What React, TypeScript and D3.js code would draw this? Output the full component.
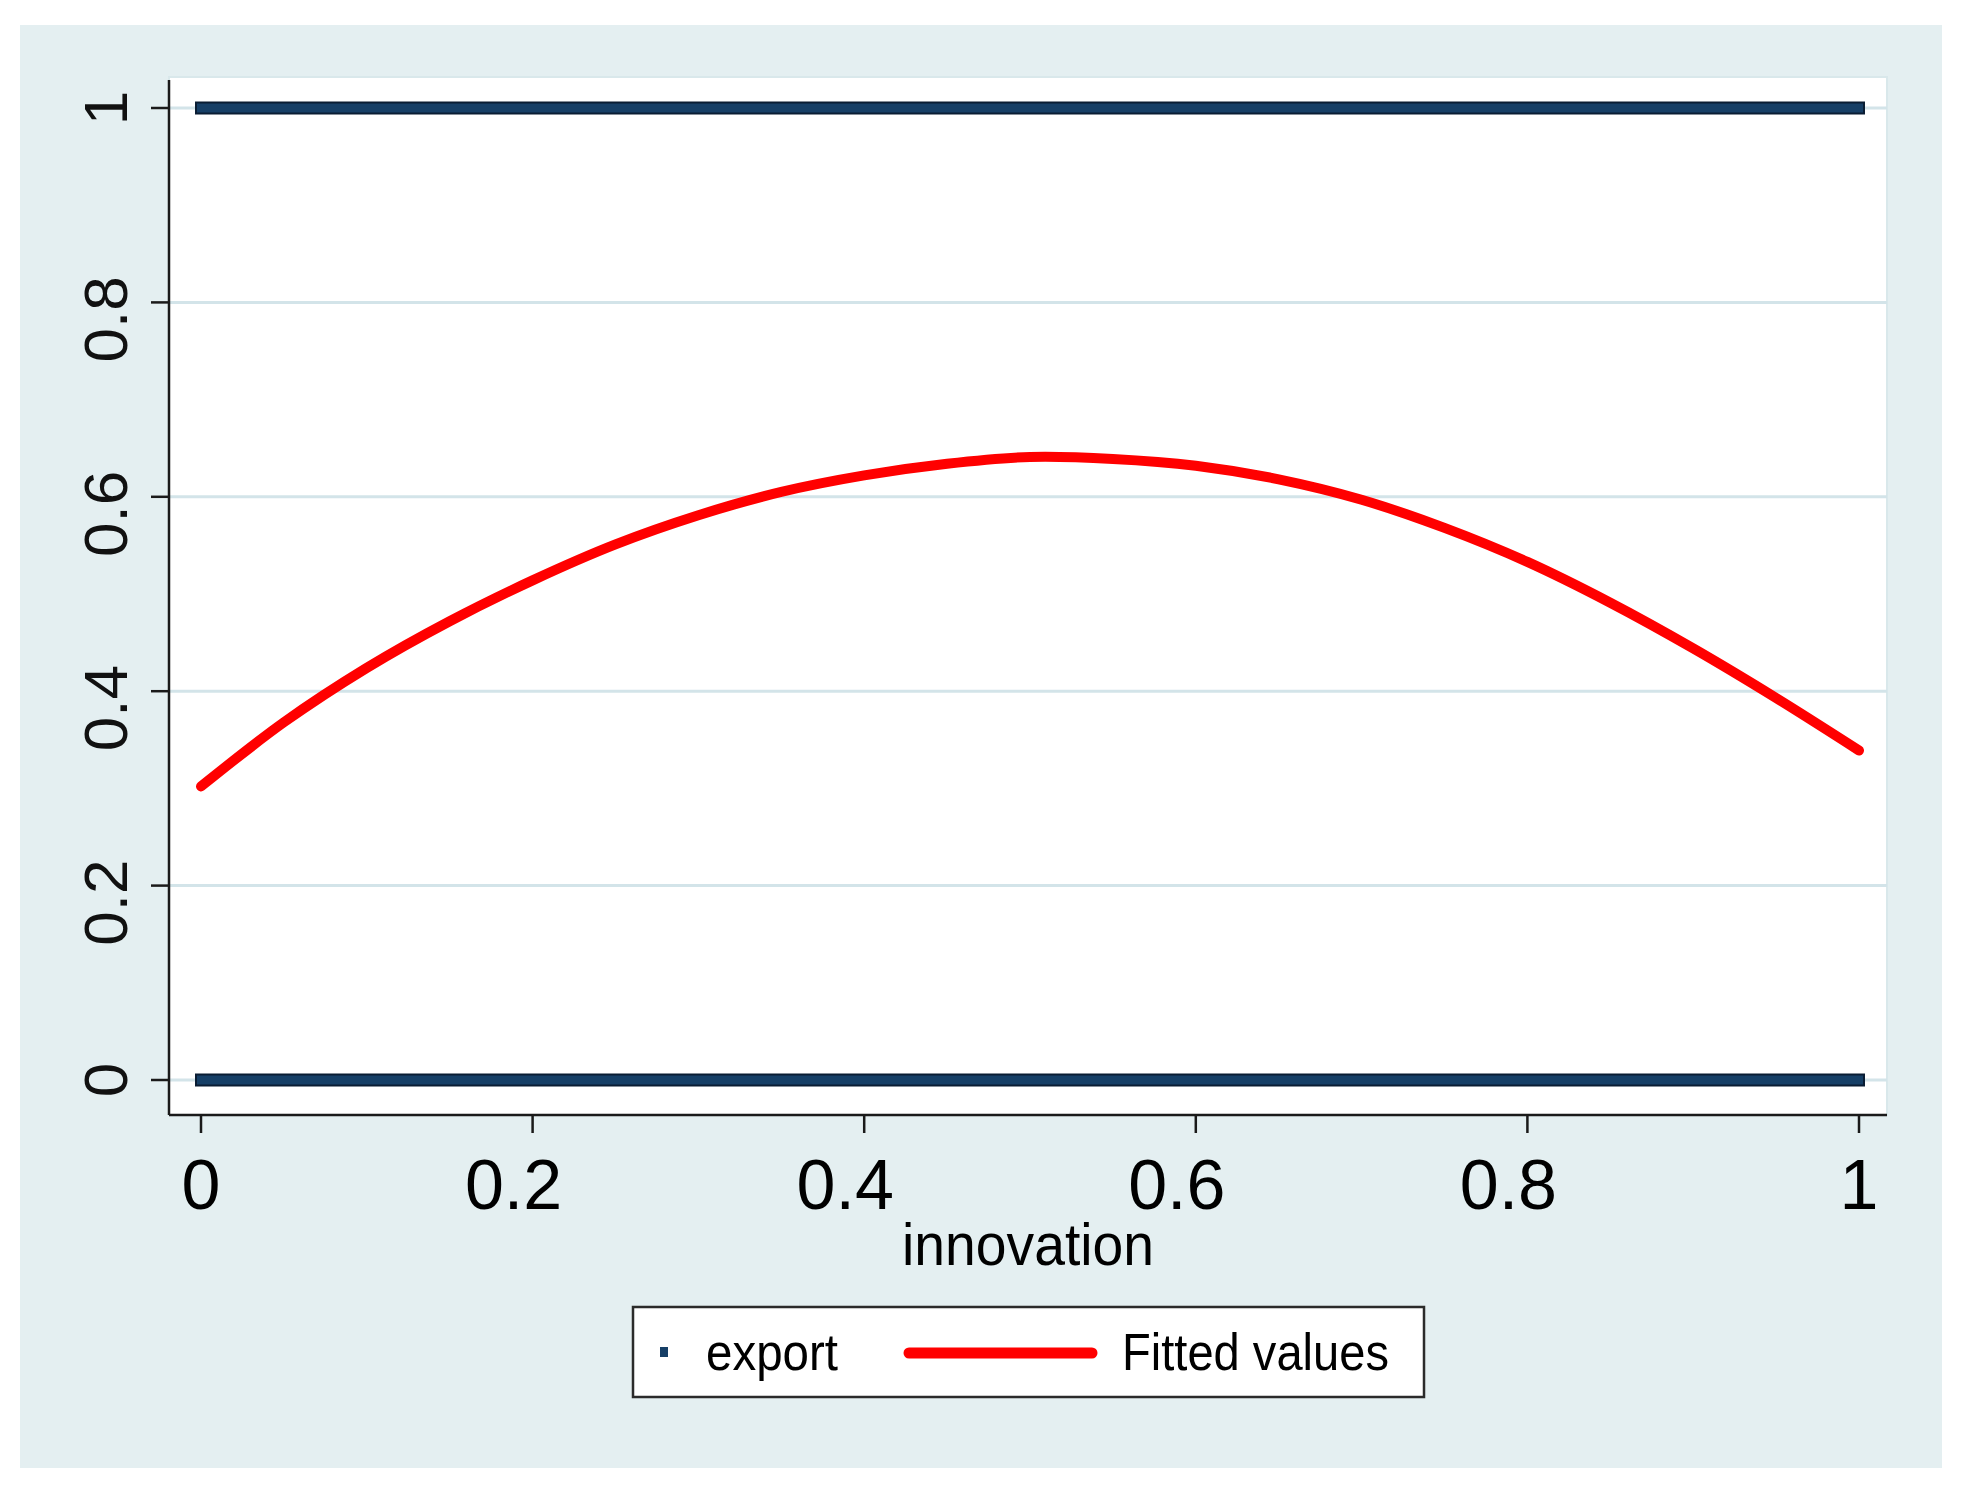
import React, { useRef, useEffect } from 'react'
import * as d3 from 'd3'

// fitted values (quadratic fit)
const innovation = [0, 0.05, 0.1, 0.15, 0.2, 0.25, 0.3, 0.35, 0.4, 0.45, 0.5, 0.55, 0.6, 0.65, 0.7, 0.75, 0.8, 0.85, 0.9, 0.95, 1]
const fittedValues = [0.302, 0.368, 0.424, 0.472, 0.514, 0.551, 0.581, 0.605, 0.622, 0.634, 0.641, 0.639, 0.632, 0.618, 0.597, 0.568, 0.533, 0.491, 0.444, 0.393, 0.339]

// export is a 0/1 dummy, observed over the whole innovation range
const exportLevels = [0, 1]
const exportSpan = [0, 1]

const xTickValues = [0, 0.2, 0.4, 0.6, 0.8, 1]
const xTickLabels = ['0', '0.2', '0.4', '0.6', '0.8', '1']
const yTickValues = [0, 0.2, 0.4, 0.6, 0.8, 1]
const yTickLabels = ['0', '0.2', '0.4', '0.6', '0.8', '1']
const legendLabels = ['export', 'Fitted values']

const FONT = '"Liberation Sans", Arial, sans-serif'

const App = () => {
    const ref = useRef<SVGSVGElement>(null)
    useEffect(() => {
        const svg = d3.select(ref.current)
        svg.selectAll('*').remove()

        const plot = { left: 169, top: 77, right: 1887, bottom: 1115 }

        // graph region
        svg.append('rect')
            .attr('x', 20).attr('y', 25)
            .attr('width', 1922).attr('height', 1443)
            .attr('fill', '#e4eff1')

        // plot region
        svg.append('rect')
            .attr('x', plot.left).attr('y', plot.top)
            .attr('width', plot.right - plot.left).attr('height', plot.bottom - plot.top)
            .attr('fill', 'white')
            .attr('stroke', '#d9e8eb')
            .attr('stroke-width', 2)

        const x = d3.scaleLinear().domain([0, 1]).range([201, 1859])
        const y = d3.scaleLinear().domain([0, 1]).range([1080, 108])

        // grid lines
        svg.append('g')
            .selectAll('line')
            .data(yTickValues)
            .join('line')
            .attr('x1', plot.left).attr('x2', plot.right)
            .attr('y1', d => y(d)).attr('y2', d => y(d))
            .attr('stroke', '#d3e4e9')
            .attr('stroke-width', 3)

        // export markers (dense, so they form bands)
        svg.append('g')
            .selectAll('rect')
            .data(exportLevels)
            .join('rect')
            .attr('x', x(exportSpan[0]) - 5)
            .attr('width', x(exportSpan[1]) - x(exportSpan[0]) + 10)
            .attr('y', d => y(d) - 5.5)
            .attr('height', 11)
            .attr('fill', '#163f66')
            .attr('stroke', '#0a1d33')
            .attr('stroke-width', 2)

        // fitted values
        const line = d3.line<number>()
            .x((d, i) => x(innovation[i]))
            .y(d => y(d))
            .curve(d3.curveCatmullRom)
        svg.append('path')
            .datum(fittedValues)
            .attr('d', line)
            .attr('fill', 'none')
            .attr('stroke', '#ff0000')
            .attr('stroke-width', 10)
            .attr('stroke-linecap', 'round')
            .attr('stroke-linejoin', 'round')

        // y axis
        svg.append('line')
            .attr('x1', plot.left).attr('x2', plot.left)
            .attr('y1', plot.top + 3).attr('y2', plot.bottom)
            .attr('stroke', '#1a1a1a').attr('stroke-width', 2.5)
        svg.append('g')
            .selectAll('line')
            .data(yTickValues)
            .join('line')
            .attr('x1', 151).attr('x2', plot.left)
            .attr('y1', d => y(d)).attr('y2', d => y(d))
            .attr('stroke', '#1a1a1a').attr('stroke-width', 2.5)
        svg.append('g')
            .selectAll('text')
            .data(yTickValues)
            .join('text')
            .attr('transform', (d, i) => `translate(127, ${y(d) + (yTickLabels[i].length - 1) * 8.5}) rotate(-90)`)
            .attr('text-anchor', 'middle')
            .style('font-family', FONT)
            .style('font-size', '62px')
            .style('fill', '#111')
            .text((d, i) => yTickLabels[i])

        // x axis
        svg.append('line')
            .attr('x1', plot.left).attr('x2', plot.right)
            .attr('y1', plot.bottom).attr('y2', plot.bottom)
            .attr('stroke', '#1a1a1a').attr('stroke-width', 2.5)
        svg.append('g')
            .selectAll('line')
            .data(xTickValues)
            .join('line')
            .attr('x1', d => x(d)).attr('x2', d => x(d))
            .attr('y1', plot.bottom).attr('y2', plot.bottom + 18)
            .attr('stroke', '#1a1a1a').attr('stroke-width', 2.5)
        svg.append('g')
            .selectAll('text')
            .data(xTickValues)
            .join('text')
            .attr('x', (d, i) => x(d) - (xTickLabels[i].length - 1) * 9.5)
            .attr('y', 1209)
            .attr('text-anchor', 'middle')
            .style('font-family', FONT)
            .style('font-size', '70px')
            .style('fill', '#000')
            .text((d, i) => xTickLabels[i])

        svg.append('text')
            .attr('x', (plot.left + plot.right) / 2)
            .attr('y', 1265)
            .attr('text-anchor', 'middle')
            .attr('textLength', 252)
            .attr('lengthAdjust', 'spacingAndGlyphs')
            .style('font-family', FONT)
            .style('font-size', '60px')
            .style('fill', '#000')
            .text('innovation')

        // legend
        const lg = svg.append('g')
        lg.append('rect')
            .attr('x', 633).attr('y', 1307)
            .attr('width', 791).attr('height', 90)
            .attr('fill', 'white')
            .attr('stroke', '#2b2b2b')
            .attr('stroke-width', 2.5)
        lg.append('rect')
            .attr('x', 660).attr('y', 1347)
            .attr('width', 8).attr('height', 10)
            .attr('fill', '#163f66')
        lg.append('text')
            .attr('x', 706).attr('y', 1370)
            .attr('textLength', 132)
            .attr('lengthAdjust', 'spacingAndGlyphs')
            .style('font-family', FONT)
            .style('font-size', '52px')
            .text(legendLabels[0])
        lg.append('line')
            .attr('x1', 909).attr('x2', 1092)
            .attr('y1', 1353).attr('y2', 1353)
            .attr('stroke', '#ff0000')
            .attr('stroke-width', 11)
            .attr('stroke-linecap', 'round')
        lg.append('text')
            .attr('x', 1122).attr('y', 1370)
            .attr('textLength', 267)
            .attr('lengthAdjust', 'spacingAndGlyphs')
            .style('font-family', FONT)
            .style('font-size', '52px')
            .text(legendLabels[1])
    }, [])

    return (
        <svg ref={ref} width={1964} height={1485}
            style={{ position: 'absolute', left: 0, top: 0, background: 'white' }} />
    )
}

export default App
